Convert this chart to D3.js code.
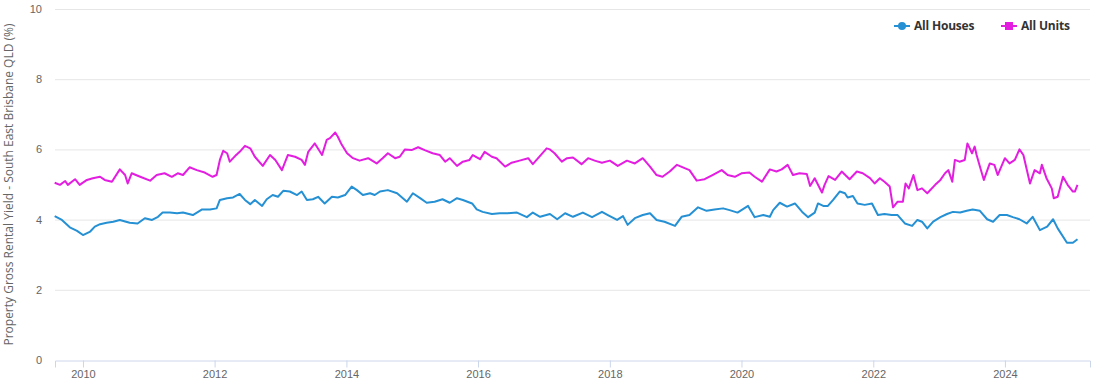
<!DOCTYPE html>
<html>
<head>
  <meta charset="utf-8" />
  <title>Gross Rental Yield - South East Brisbane</title>
  <script src="https://d3js.org/d3.v7.min.js"></script>
  <style>
    body {
      margin: 0;
      background: #fff;
      font-family: "Open Sans", sans-serif;
    }

    svg {
      display: block;
    }

    .grid line {
      stroke: #e6e6e6;
      stroke-width: 1px;
    }

    .tick text {
      fill: #666;
      font-size: 11px;
    }

    .legend text {
      font: bold 12px "Open Sans", sans-serif;
      fill: #333;
    }
  </style>
</head>
<body>

<svg width="1098" height="383"></svg>

<script>
  // time stamps as decimal years, values in %
  const housesDates = [2009.57, 2009.68, 2009.80, 2009.91, 2010.00, 2010.11, 2010.18, 2010.26, 2010.36, 2010.46,
    2010.56, 2010.71, 2010.83, 2010.94, 2011.05, 2011.14, 2011.21, 2011.32, 2011.43, 2011.52,
    2011.67, 2011.81, 2011.93, 2012.03, 2012.08, 2012.19, 2012.28, 2012.38, 2012.46, 2012.54,
    2012.61, 2012.72, 2012.79, 2012.88, 2012.96, 2013.04, 2013.14, 2013.25, 2013.32, 2013.40,
    2013.49, 2013.57, 2013.67, 2013.78, 2013.87, 2013.98, 2014.08, 2014.16, 2014.25, 2014.36,
    2014.43, 2014.51, 2014.63, 2014.77, 2014.92, 2015.01, 2015.12, 2015.22, 2015.34, 2015.46,
    2015.57, 2015.68, 2015.77, 2015.91, 2015.98, 2016.07, 2016.21, 2016.33, 2016.45, 2016.59,
    2016.74, 2016.83, 2016.94, 2017.09, 2017.20, 2017.32, 2017.44, 2017.59, 2017.73, 2017.88,
    2017.97, 2018.11, 2018.20, 2018.27, 2018.38, 2018.50, 2018.61, 2018.71, 2018.83, 2018.99,
    2019.09, 2019.21, 2019.34, 2019.47, 2019.59, 2019.72, 2019.82, 2019.94, 2020.10, 2020.20,
    2020.33, 2020.43, 2020.48, 2020.58, 2020.69, 2020.81, 2020.92, 2021.01, 2021.11, 2021.16,
    2021.24, 2021.31, 2021.39, 2021.49, 2021.57, 2021.61, 2021.69, 2021.76, 2021.87, 2021.98,
    2022.07, 2022.17, 2022.28, 2022.37, 2022.48, 2022.59, 2022.67, 2022.74, 2022.82, 2022.91,
    2023.02, 2023.12, 2023.21, 2023.32, 2023.42, 2023.51, 2023.62, 2023.73, 2023.82, 2023.92,
    2024.03, 2024.12, 2024.22, 2024.33, 2024.42, 2024.53, 2024.64, 2024.73, 2024.80, 2024.94,
    2025.03, 2025.10];
  const housesValues = [4.10, 3.99, 3.78, 3.68, 3.56, 3.66, 3.80, 3.87, 3.91, 3.94,
    3.99, 3.91, 3.89, 4.04, 3.99, 4.08, 4.20, 4.20, 4.18, 4.20,
    4.13, 4.29, 4.29, 4.32, 4.56, 4.61, 4.63, 4.73, 4.56, 4.44,
    4.56, 4.39, 4.58, 4.70, 4.65, 4.82, 4.80, 4.70, 4.80, 4.56,
    4.58, 4.65, 4.46, 4.65, 4.63, 4.70, 4.94, 4.84, 4.70, 4.75,
    4.70, 4.80, 4.84, 4.75, 4.51, 4.75, 4.61, 4.48, 4.51, 4.58,
    4.48, 4.61, 4.56, 4.46, 4.29, 4.22, 4.16, 4.18, 4.18, 4.20,
    4.07, 4.20, 4.08, 4.16, 4.01, 4.18, 4.08, 4.20, 4.07, 4.22,
    4.13, 3.99, 4.10, 3.85, 4.04, 4.13, 4.18, 3.99, 3.94, 3.82,
    4.08, 4.13, 4.35, 4.25, 4.29, 4.32, 4.27, 4.20, 4.39, 4.07,
    4.13, 4.08, 4.27, 4.48, 4.37, 4.46, 4.22, 4.07, 4.20, 4.46,
    4.39, 4.39, 4.56, 4.80, 4.75, 4.63, 4.67, 4.46, 4.42, 4.46,
    4.13, 4.16, 4.13, 4.13, 3.89, 3.82, 3.99, 3.94, 3.75, 3.94,
    4.07, 4.16, 4.22, 4.20, 4.25, 4.29, 4.25, 4.01, 3.94, 4.13,
    4.13, 4.07, 4.01, 3.89, 4.08, 3.70, 3.80, 4.01, 3.75, 3.34,
    3.34, 3.44];

  const unitsDates = [2009.57, 2009.65, 2009.73, 2009.77, 2009.88, 2009.95, 2010.06, 2010.15, 2010.26, 2010.33,
    2010.44, 2010.56, 2010.64, 2010.68, 2010.74, 2010.87, 2011.02, 2011.12, 2011.24, 2011.35,
    2011.44, 2011.52, 2011.62, 2011.73, 2011.85, 2011.97, 2012.03, 2012.08, 2012.13, 2012.19,
    2012.23, 2012.31, 2012.38, 2012.46, 2012.54, 2012.61, 2012.73, 2012.84, 2012.92, 2013.02,
    2013.11, 2013.22, 2013.32, 2013.37, 2013.42, 2013.52, 2013.63, 2013.70, 2013.75, 2013.83,
    2013.87, 2013.93, 2014.01, 2014.10, 2014.20, 2014.33, 2014.46, 2014.55, 2014.63, 2014.74,
    2014.81, 2014.89, 2014.99, 2015.09, 2015.19, 2015.31, 2015.42, 2015.50, 2015.57, 2015.68,
    2015.77, 2015.87, 2015.92, 2016.03, 2016.10, 2016.21, 2016.28, 2016.41, 2016.51, 2016.63,
    2016.76, 2016.83, 2016.91, 2017.04, 2017.09, 2017.16, 2017.27, 2017.35, 2017.44, 2017.57,
    2017.67, 2017.77, 2017.88, 2018.00, 2018.12, 2018.26, 2018.38, 2018.50, 2018.61, 2018.71,
    2018.80, 2018.91, 2019.02, 2019.11, 2019.21, 2019.32, 2019.44, 2019.56, 2019.70, 2019.79,
    2019.90, 2020.00, 2020.12, 2020.20, 2020.31, 2020.43, 2020.53, 2020.61, 2020.70, 2020.78,
    2020.88, 2020.99, 2021.04, 2021.11, 2021.22, 2021.26, 2021.32, 2021.42, 2021.52, 2021.64,
    2021.75, 2021.84, 2021.95, 2022.02, 2022.10, 2022.17, 2022.25, 2022.30, 2022.37, 2022.45,
    2022.49, 2022.54, 2022.61, 2022.67, 2022.74, 2022.82, 2022.94, 2023.02, 2023.09, 2023.14,
    2023.20, 2023.24, 2023.31, 2023.39, 2023.43, 2023.50, 2023.54, 2023.57, 2023.62, 2023.68,
    2023.77, 2023.84, 2023.89, 2024.00, 2024.07, 2024.15, 2024.22, 2024.28, 2024.38, 2024.45,
    2024.53, 2024.56, 2024.63, 2024.71, 2024.74, 2024.80, 2024.88, 2024.95, 2025.03, 2025.06,
    2025.10];
  const unitsValues = [5.05, 4.99, 5.10, 4.99, 5.15, 4.99, 5.13, 5.18, 5.22, 5.13,
    5.08, 5.43, 5.27, 5.03, 5.32, 5.22, 5.11, 5.27, 5.32, 5.22,
    5.32, 5.27, 5.49, 5.41, 5.34, 5.22, 5.27, 5.70, 5.96, 5.89,
    5.65, 5.81, 5.93, 6.10, 6.03, 5.79, 5.53, 5.84, 5.70, 5.41,
    5.84, 5.79, 5.70, 5.56, 5.93, 6.17, 5.84, 6.27, 6.32, 6.48,
    6.36, 6.13, 5.89, 5.75, 5.68, 5.75, 5.60, 5.75, 5.89, 5.75,
    5.79, 6.00, 5.98, 6.06, 5.98, 5.89, 5.84, 5.65, 5.75, 5.53,
    5.65, 5.70, 5.84, 5.72, 5.93, 5.79, 5.75, 5.51, 5.62, 5.68,
    5.75, 5.58, 5.75, 6.03, 6.00, 5.89, 5.65, 5.75, 5.77, 5.58,
    5.75, 5.68, 5.62, 5.68, 5.53, 5.68, 5.60, 5.75, 5.51, 5.27,
    5.22, 5.37, 5.56, 5.49, 5.41, 5.11, 5.15, 5.27, 5.41, 5.27,
    5.22, 5.32, 5.34, 5.22, 5.08, 5.43, 5.37, 5.43, 5.56, 5.27,
    5.32, 5.30, 4.96, 5.18, 4.77, 4.99, 5.24, 5.13, 5.37, 5.15,
    5.37, 5.32, 5.18, 5.03, 5.18, 5.08, 4.94, 4.35, 4.51, 4.51,
    5.03, 4.89, 5.27, 4.84, 4.89, 4.75, 4.99, 5.13, 5.32, 5.41,
    5.08, 5.70, 5.65, 5.70, 6.17, 5.89, 6.08, 5.84, 5.51, 5.13,
    5.60, 5.56, 5.27, 5.75, 5.60, 5.70, 6.00, 5.84, 5.03, 5.41,
    5.32, 5.56, 5.18, 4.89, 4.61, 4.65, 5.22, 4.99, 4.80, 4.80,
    4.99];

  const yTicks = [0, 2, 4, 6, 8, 10];
  const seriesNames = ["All Houses", "All Units"];
  const seriesColors = ["#2590d3", "#e31ee0"];
  const yLabel = "Property Gross Rental Yield - South East Brisbane QLD (%)";

  // decimal year -> Date
  function toDate(y) {
    const yr = Math.floor(y);
    const start = new Date(yr, 0, 1), end = new Date(yr + 1, 0, 1);
    return new Date(+start + (y - yr) * (end - start));
  }

  const svg = d3.select("svg");
  const margin = { top: 9, right: 8, bottom: 23, left: 55 };
  const width = 1098, height = 383;

  const x = d3.scaleTime()
    .domain([toDate(2009.575), toDate(2025.29)])
    .range([margin.left, width - margin.right]);

  const y = d3.scaleLinear()
    .domain([0, 10])
    .range([height - margin.bottom, margin.top]);

  // grid
  svg.append("g")
    .attr("class", "grid")
    .selectAll("line")
    .data(yTicks.filter(d => d > 0))
    .join("line")
    .attr("x1", margin.left)
    .attr("x2", width - margin.right)
    .attr("y1", d => y(d) + 0.5)
    .attr("y2", d => y(d) + 0.5);

  // y axis (labels only)
  const yAxis = svg.append("g")
    .attr("transform", `translate(${margin.left},0)`)
    .call(d3.axisLeft(y).tickValues(yTicks).tickSize(0).tickPadding(13));
  yAxis.select(".domain").remove();

  // x axis
  const xAxis = svg.append("g")
    .attr("transform", `translate(0,${height - margin.bottom + 0.5})`)
    .call(d3.axisBottom(x)
      .ticks(d3.timeYear.every(2))
      .tickFormat(d3.timeFormat("%Y"))
      .tickSize(7)
      .tickPadding(3));
  xAxis.select(".domain").attr("stroke", "#ccd6eb");
  xAxis.selectAll(".tick line").attr("stroke", "#ccd6eb");

  svg.append("text")
    .attr("transform", `translate(13,${(margin.top + height - margin.bottom) / 2}) rotate(-90)`)
    .attr("text-anchor", "middle")
    .attr("fill", "#666")
    .style("font-size", "12px")
    .text(yLabel);

  const line = d3.line()
    .x(d => x(d.date))
    .y(d => y(d.value));

  const series = [
    housesDates.map((d, i) => ({ date: toDate(d), value: housesValues[i] })),
    unitsDates.map((d, i) => ({ date: toDate(d), value: unitsValues[i] }))
  ];

  svg.append("g")
    .selectAll("path")
    .data(series)
    .join("path")
    .attr("fill", "none")
    .attr("stroke", (d, i) => seriesColors[i])
    .attr("stroke-width", 2)
    .attr("stroke-linejoin", "round")
    .attr("d", line);

  // legend
  const legend = svg.append("g").attr("class", "legend");
  const legendX = [894, 1001];
  seriesNames.forEach((name, i) => {
    const g = legend.append("g").attr("transform", `translate(${legendX[i]},26)`);
    g.append("line")
      .attr("x1", 0).attr("x2", 16)
      .attr("stroke", seriesColors[i]).attr("stroke-width", 2);
    if (i === 0) {
      g.append("circle").attr("cx", 8).attr("r", 4).attr("fill", seriesColors[i]);
    } else {
      g.append("rect").attr("x", 4).attr("y", -4).attr("width", 8).attr("height", 8).attr("fill", seriesColors[i]);
    }
    g.append("text").attr("x", 20).attr("dy", "0.35em")
      .style("letter-spacing", "-0.2px")
      .text(name);
  });
</script>

</body>
</html>
